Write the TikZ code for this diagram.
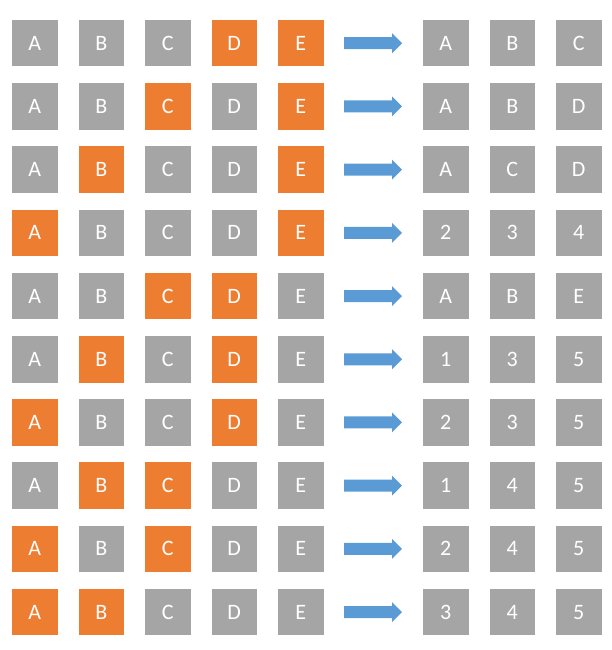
\documentclass[tikz,border=0pt]{standalone}
\usepackage{fontspec}
\setmainfont{Carlito}
\definecolor{boxgray}{HTML}{A5A5A5}
\definecolor{boxorange}{HTML}{ED7D31}
\definecolor{arrowblue}{HTML}{5B9BD5}
\begin{document}
\begin{tikzpicture}[x=1pt,y=-1pt,
  cell/.style={minimum width=45.5pt,minimum height=46.5pt,inner sep=0pt,
    text=white,font=\fontsize{22}{22}\selectfont},
  grayc/.style={cell,fill=boxgray},
  orangec/.style={cell,fill=boxorange},
  blockarrow/.style={fill=arrowblue}]
\useasboundingbox (0,0) rectangle (612,650);
\foreach \oa/\ob/\oc/\od/\oe/\ra/\rb/\rc [count=\i from 0] in {
  g/g/g/o/o/A/B/C,
  g/g/o/g/o/A/B/D,
  g/o/g/g/o/A/C/D,
  o/g/g/g/o/2/3/4,
  g/g/o/o/g/A/B/E,
  g/o/g/o/g/1/3/5,
  o/g/g/o/g/2/3/5,
  g/o/o/g/g/1/4/5,
  o/g/o/g/g/2/4/5,
  o/o/g/g/g/3/4/5}{
  \pgfmathsetmacro{\yc}{43.25+63.2*\i}
  \foreach \c/\lab/\x in {\oa/A/34.75, \ob/B/101.25, \oc/C/167.75, \od/D/234.25, \oe/E/300.75}{
    \if\c o\def\st{orangec}\else\def\st{grayc}\fi
    \node[\st] (l\i\lab) at (\x,\yc) {\lab};
  }
  \coordinate (arr\i) at (344,\yc);
  \fill[blockarrow] (arr\i) ++(0,-6) -- ++(48,0) -- ++(0,-4) -- ++(10,10) -- ++(-10,10) -- ++(0,-4) -- ++(-48,0) -- cycle;
  \node[grayc] (ra\i) at (445.75,\yc) {\ra};
  \node[grayc] (rb\i) at (512.25,\yc) {\rb};
  \node[grayc] (rc\i) at (578.75,\yc) {\rc};
}
\end{tikzpicture}
\end{document}
